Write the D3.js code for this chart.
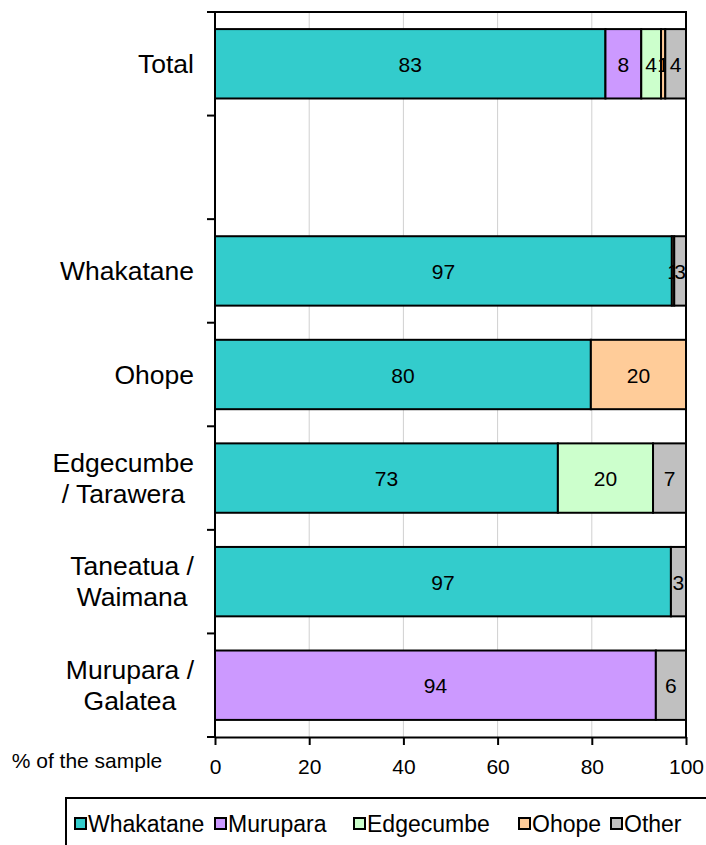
<!DOCTYPE html>
<html lang="en">
    <head>
        <meta charset="utf-8">
        <title>Area of residence by sample</title>
        <script type="text/javascript" src="https://cdn.jsdelivr.net/npm/d3@7"></script>
        <style type="text/css">
          body { margin: 0; background: #fff; }
          text { font-family: "Liberation Sans", Arial, sans-serif; }
        </style>
    </head>
    <body>
        <script type="text/javascript">

          var w = 706;
          var h = 845;
          var margin = {top: 12, right: 20, bottom: 108, left: 215},
              width = 686 - margin.left,
              height = 737 - margin.top;

          // rows, top to bottom (second row is an empty spacer)
          var categories = ["Total", "", "Whakatane", "Ohope", "Edgecumbe\n/ Tarawera", "Taneatua /\nWaimana", "Murupara /\nGalatea"];
          var seriesNames = ["Whakatane", "Murupara", "Edgecumbe", "Ohope", "Other"];
          var colors = ["#33cccc", "#cc99ff", "#ccffcc", "#ffcc99", "#c0c0c0"];

          var whakatane = [82.9, 0, 97, 79.8, 72.8, 96.8, 0];
          var murupara  = [7.6, 0, 0, 0, 0, 0, 93.6];
          var edgecumbe = [4.2, 0, 0, 0, 20.2, 0, 0];
          var ohope     = [0.9, 0, 0.5, 20.2, 0, 0, 0];
          var other     = [4.4, 0, 2.5, 0, 7, 3.2, 6.4];

          var xTicks = [0, 20, 40, 60, 80, 100];

          var series = [whakatane, murupara, edgecumbe, ohope, other];

          var rows = categories.map(function(c, i) {
            var row = {cat: c, idx: i};
            seriesNames.forEach(function(s, j) { row[s] = series[j][i]; });
            return row;
          });

          var stack = d3.stack().keys(seriesNames)(rows);

          var svg = d3.select("body")
                      .append("svg")
                      .attr("width", w)
                      .attr("height", h);

          var xScale = d3.scaleLinear()
                         .domain([0, 100])
                         .range([margin.left, margin.left + width]);

          var yScale = d3.scaleBand()
                         .domain(d3.range(categories.length))
                         .range([margin.top, margin.top + height])
                         .paddingInner(0.33)
                         .paddingOuter(0.165);

          var bandStep = height / categories.length;

          // gridlines
          svg.selectAll("line.grid")
             .data(xTicks.slice(1, -1))
             .enter()
             .append("line")
             .attr("x1", function(d) { return xScale(d); })
             .attr("x2", function(d) { return xScale(d); })
             .attr("y1", margin.top)
             .attr("y2", margin.top + height)
             .attr("stroke", "#d0d0d0")
             .attr("stroke-width", 1);

          // plot border (top and right)
          svg.append("path")
             .attr("d", "M" + xScale(0) + "," + margin.top + "H" + xScale(100) + "V" + (margin.top + height))
             .attr("fill", "none")
             .attr("stroke", "#000")
             .attr("stroke-width", 2);

          // bars
          var groups = svg.selectAll("g.series")
             .data(stack)
             .enter()
             .append("g")
             .attr("fill", function(d, i) { return colors[i]; });

          groups.selectAll("rect")
             .data(function(d) { return d.filter(function(p) { return p[1] - p[0] > 0; }); })
             .enter()
             .append("rect")
             .attr("x", function(d) { return xScale(d[0]); })
             .attr("width", function(d) { return xScale(d[1]) - xScale(d[0]); })
             .attr("y", function(d) { return yScale(d.data.idx); })
             .attr("height", yScale.bandwidth())
             .attr("stroke", "#000")
             .attr("stroke-width", 2);

          groups.selectAll("text")
             .data(function(d) { return d.filter(function(p) { return p[1] - p[0] > 0; }); })
             .enter()
             .append("text")
             .attr("x", function(d) { return xScale((d[0] + d[1]) / 2); })
             .attr("y", function(d) { return yScale(d.data.idx) + yScale.bandwidth() / 2 + 8; })
             .attr("text-anchor", "middle")
             .attr("fill", "#000")
             .style("font-size", "21px")
             .text(function(d) { return Math.round(d[1] - d[0]); });

          // y axis
          var yAxis = svg.append("g");
          yAxis.append("line")
               .attr("x1", margin.left).attr("x2", margin.left)
               .attr("y1", margin.top).attr("y2", margin.top + height)
               .attr("stroke", "#000").attr("stroke-width", 2);
          yAxis.selectAll("line.tick")
               .data(d3.range(categories.length + 1))
               .enter()
               .append("line")
               .attr("x1", margin.left - 8).attr("x2", margin.left)
               .attr("y1", function(d) { return margin.top + d * bandStep; })
               .attr("y2", function(d) { return margin.top + d * bandStep; })
               .attr("stroke", "#000").attr("stroke-width", 2);

          // category labels: lines centred, block right aligned
          categories.forEach(function(c, i) {
            if (!c) return;
            var lines = c.split("\n");
            var cy = yScale(i) + yScale.bandwidth() / 2;
            var t = svg.append("text")
                       .attr("text-anchor", "middle")
                       .style("font-size", "26.5px")
                       .attr("fill", "#000");
            lines.forEach(function(l, k) {
              t.append("tspan")
               .attr("y", cy + 9 + (k - (lines.length - 1) / 2) * 31)
               .text(l);
            });
            var maxW = 0;
            t.selectAll("tspan").each(function() { maxW = Math.max(maxW, this.getComputedTextLength()); });
            t.selectAll("tspan").attr("x", 194 - maxW / 2);
          });

          // x axis
          var xAxis = d3.axisBottom(xScale)
                        .tickValues(xTicks)
                        .tickSize(8)
                        .tickSizeOuter(0)
                        .tickPadding(14);

          var gx = svg.append("g")
             .attr("transform", "translate(0," + (margin.top + height) + ")")
             .call(xAxis);
          gx.select(".domain").attr("stroke-width", 2);
          gx.selectAll(".tick line").attr("stroke-width", 2);
          gx.selectAll(".tick text")
             .style("font-size", "21px")
             .style("font-family", "'Liberation Sans', Arial, sans-serif");

          svg.append("text")
             .attr("x", 87)
             .attr("y", 768)
             .attr("text-anchor", "middle")
             .style("font-size", "21px")
             .text("% of the sample");

          // legend
          var legend = svg.append("g");
          legend.append("rect")
                .attr("x", 66).attr("y", 798)
                .attr("width", 700).attr("height", 80)
                .attr("fill", "#fff")
                .attr("stroke", "#000").attr("stroke-width", 2);

          var legendX = [75, 215, 354, 519, 611];
          var item = legend.selectAll("g.item")
                .data(seriesNames)
                .enter()
                .append("g")
                .attr("transform", function(d, i) { return "translate(" + legendX[i] + ",824)"; });
          item.append("rect")
              .attr("x", 0).attr("y", -6)
              .attr("width", 11).attr("height", 11)
              .attr("fill", function(d, i) { return colors[i]; })
              .attr("stroke", "#000").attr("stroke-width", 2);
          item.append("text")
              .attr("x", 13).attr("y", 8)
              .style("font-size", "23px")
              .text(function(d) { return d; });

        </script>
    </body>
</html>
